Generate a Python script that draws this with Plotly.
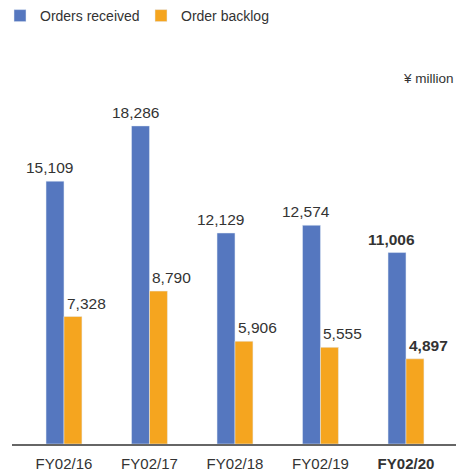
import plotly.graph_objects as go

categories = ["FY02/16", "FY02/17", "FY02/18", "FY02/19", "FY02/20"]
tick_labels = ["FY02/16", "FY02/17", "FY02/18", "FY02/19", "<b>FY02/20</b>"]
orders_received = [15109, 18286, 12129, 12574, 11006]
order_backlog = [7328, 8790, 5906, 5555, 4897]
unit_label = "¥ million"

BLUE = "#5577BF"
ORANGE = "#F5A51F"
TXT = "#333333"
FONT = "Liberation Sans, Arial, sans-serif"

x = list(range(len(categories)))

fig = go.Figure()
fig.add_bar(x=x, y=orders_received, name="Orders received", marker_color=BLUE)
fig.add_bar(x=x, y=order_backlog, name="Order backlog", marker_color=ORANGE)

def fmt(v, bold):
    s = f"{v:,}"
    return f"<b>{s}</b>" if bold else s

last = len(categories) - 1
for i, v in enumerate(orders_received):
    fig.add_annotation(x=x[i], y=v, text=fmt(v, i == last), showarrow=False,
                       xanchor="right", yanchor="bottom", xshift=11.5, yshift=3,
                       font=dict(size=15.5, color=TXT, family=FONT))
for i, v in enumerate(order_backlog):
    fig.add_annotation(x=x[i], y=v, text=fmt(v, i == last), showarrow=False,
                       xanchor="left", yanchor="bottom", xshift=1, yshift=3,
                       font=dict(size=15.5, color=TXT, family=FONT))

fig.add_annotation(text=unit_label, xref="paper", yref="paper", x=1, y=1,
                   xanchor="right", yanchor="middle", yshift=-8, showarrow=False,
                   font=dict(size=13.5, color=TXT, family=FONT))

fig.update_layout(
    width=459, height=474,
    margin=dict(l=12, r=3, t=70, b=30),
    paper_bgcolor="white", plot_bgcolor="white",
    barmode="group", bargap=0.58, bargroupgap=0,
    font=dict(family=FONT, color=TXT),
    showlegend=True,
    legend=dict(orientation="h", xref="container", yref="container",
                x=0, y=1, xanchor="left", yanchor="top",
                font=dict(size=14, color=TXT, family=FONT),
                entrywidth=96, entrywidthmode="pixels",
                bgcolor="rgba(0,0,0,0)"),
    xaxis=dict(range=[-0.608, 4.585], tickvals=x, ticktext=tick_labels,
               showline=True, linecolor="#666666", linewidth=1.5,
               showgrid=False, zeroline=False, ticks="", ticklabelstandoff=5,
               tickfont=dict(size=15, color=TXT, family=FONT)),
    yaxis=dict(range=[0, 21500], visible=False, showgrid=False, zeroline=False),
)

fig.write_html("out.html", config={"displayModeBar": False},
               post_script="document.body.style.margin='0';document.body.style.overflow='hidden';")
